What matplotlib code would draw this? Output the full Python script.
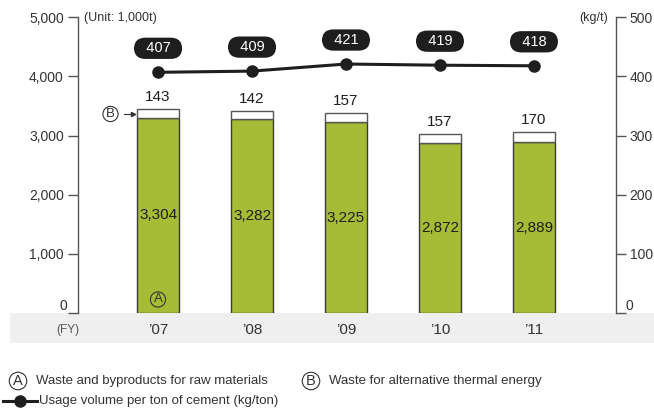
import matplotlib
matplotlib.use("Agg")
import matplotlib.pyplot as plt
from matplotlib.patches import Rectangle
from matplotlib.lines import Line2D

plt.rcParams['font.family'] = ['Liberation Sans', 'DejaVu Sans']

years = ["\u201907", "\u201908", "\u201909", "\u201910", "\u201911"]
raw_materials = [3304, 3282, 3225, 2872, 2889]          # A
thermal_energy = [143, 142, 157, 157, 170]              # B
per_ton = [407, 409, 421, 419, 418]                     # kg/t

left_ticks = [0, 1000, 2000, 3000, 4000, 5000]
right_ticks = [0, 100, 200, 300, 400, 500]

GREEN = "#a6bc36"
DARK = "#1e1e1e"
GRAY = "#555555"
TXT = "#333333"

W, H = 654, 412
fig = plt.figure(figsize=(W / 100, H / 100), dpi=100)

# grey band behind the year labels
fig.patches.append(Rectangle((10 / W, 1 - 343 / H), 1 - 10 / W, 30 / H,
                             transform=fig.transFigure, fc="#efefef", ec="none", zorder=-5))

ax = fig.add_axes([77.7 / W, 1 - 313 / H, (615.7 - 77.7) / W, (313 - 17.3) / H])
ax.patch.set_alpha(0)
x = list(range(len(years)))
bw = 0.45

ax.bar(x, raw_materials, width=bw, color=GREEN, edgecolor="#3a3a3a", linewidth=1.0, zorder=2)
ax.bar(x, thermal_energy, width=bw, bottom=raw_materials, color="white",
       edgecolor=GRAY, linewidth=1.0, zorder=2)

for i in x:
    ax.text(i, raw_materials[i] / 2, f"{raw_materials[i]:,}", ha="center", va="center",
            fontsize=11, color=DARK, zorder=4)
    ax.annotate(f"{thermal_energy[i]}", xy=(i, raw_materials[i] + thermal_energy[i]),
                xytext=(0, 5), textcoords="offset pixels", ha="center", va="bottom",
                fontsize=11, color=DARK, zorder=4)

ax.set_xlim(-0.855, 4.87)
ax.set_ylim(0, 5000)
ax.set_yticks(left_ticks)
ax.set_yticklabels(["" if t == 0 else f"{t:,}" for t in left_ticks])
ax.set_xticks([])
for s in ["top", "right", "bottom"]:
    ax.spines[s].set_visible(False)
ax.spines["left"].set_color(GRAY)
ax.spines["left"].set_linewidth(1.0)
ax.tick_params(axis="y", direction="out", length=7, width=1.0, color=GRAY,
               labelsize=10, labelcolor=TXT, pad=3)

ax2 = ax.twinx()
ax2.set_ylim(0, 500)
ax2.set_yticks(right_ticks)
ax2.set_yticklabels(["" if t == 0 else f"{t}" for t in right_ticks])
for s in ["top", "left", "bottom"]:
    ax2.spines[s].set_visible(False)
ax2.spines["right"].set_color(GRAY)
ax2.spines["right"].set_linewidth(1.0)
ax2.tick_params(axis="y", direction="out", length=7, width=1.0, color=GRAY,
                labelsize=10, labelcolor=TXT, pad=3)

# zero labels sit just above the baseline ticks
fig.text(67 / W, 1 - 306 / H, "0", ha="right", va="center", fontsize=10, color=TXT)
fig.text(626 / W, 1 - 306 / H, "0", ha="left", va="center", fontsize=10, color=TXT)

ax2.plot(x, per_ton, color=DARK, linewidth=2.2, marker="o", markersize=8, zorder=5)
for i in x:
    ax2.annotate(f"  {per_ton[i]}  ", xy=(i, per_ton[i]), xytext=(0, 24),
                 textcoords="offset pixels", ha="center", va="center",
                 fontsize=10.5, color="white",
                 bbox=dict(boxstyle="round,pad=0.25,rounding_size=0.8",
                           fc=DARK, ec="none"), zorder=6)

# unit labels
fig.text(84 / W, 1 - 17.5 / H, "(Unit: 1,000t)", ha="left", va="center", fontsize=9, color=TXT)
fig.text(608 / W, 1 - 17.5 / H, "(kg/t)", ha="right", va="center", fontsize=9, color=TXT)

# year labels in the band
fig.text(68 / W, 1 - 330 / H, "(FY)", ha="center", va="center", fontsize=8.5, color=GRAY)
for i, y in enumerate(years):
    xf = ax.transData.transform((i, 0))[0] / W
    fig.text(xf, 1 - 330 / H, y, ha="center", va="center", fontsize=11, color=TXT)


def circled(xp, yp, letter, size=9.5):
    fig.text(xp / W, 1 - yp / H, letter, ha="center", va="center", fontsize=size, color=TXT,
             bbox=dict(boxstyle="circle,pad=0.12", fc="none", ec=TXT, lw=0.8), zorder=7)


# markers on the first bar
circled(158, 299.5, "A")
circled(110.5, 114, "B")
fig.add_artist(Line2D([124 / W, 133 / W], [1 - 114 / H, 1 - 114 / H], color=TXT, lw=0.8))
fig.add_artist(Line2D([133 / W], [1 - 114 / H], color=TXT, marker=">", markersize=3, lw=0))

# legend
circled(18, 381, "A", size=10.5)
fig.text(36 / W, 1 - 381 / H, "Waste and byproducts for raw materials", ha="left", va="center",
         fontsize=9.5, color=TXT)
circled(311, 381, "B", size=10.5)
fig.text(329 / W, 1 - 381 / H, "Waste for alternative thermal energy", ha="left", va="center",
         fontsize=9.5, color=TXT)
fig.add_artist(Line2D([3 / W, 37 / W], [1 - 401 / H, 1 - 401 / H], color=DARK, lw=2.2))
fig.add_artist(Line2D([20 / W], [1 - 401 / H], color=DARK, marker="o", markersize=8, lw=0))
fig.text(39 / W, 1 - 401 / H, "Usage volume per ton of cement (kg/ton)", ha="left", va="center",
         fontsize=9.5, color=TXT)

fig.savefig("out.png", dpi=100)
